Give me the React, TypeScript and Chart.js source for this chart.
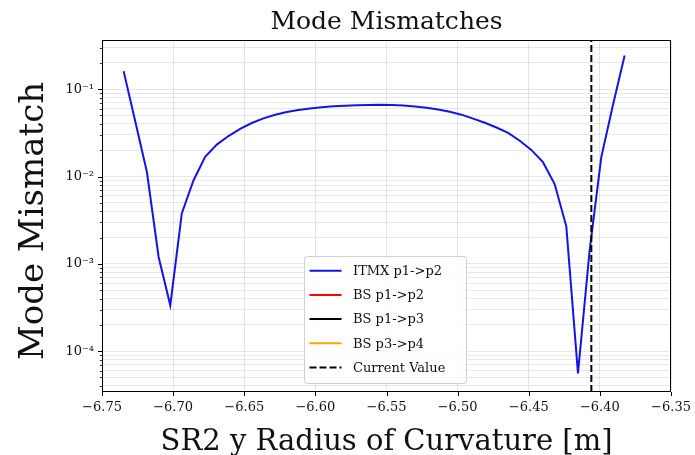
import React, { useEffect, useRef } from "react";
import { Chart, registerables } from "chart.js";

Chart.register(...registerables);

const xValues = [
  -6.7348, -6.7266, -6.7184, -6.7102, -6.702, -6.6939, -6.6857, -6.6775, -6.6693, -6.6611,
  -6.6529, -6.6447, -6.6365, -6.6283, -6.6201, -6.612, -6.6038, -6.5956, -6.5874, -6.5792,
  -6.571, -6.5628, -6.5546, -6.5464, -6.5382, -6.5301, -6.5219, -6.5137, -6.5055, -6.4973,
  -6.4891, -6.4809, -6.4727, -6.4645, -6.4563, -6.4482, -6.44, -6.4318, -6.4236, -6.4154,
  -6.4072, -6.399, -6.3908, -6.3826,
];

const itmxP1P2 = [
  0.161, 0.0427, 0.0112, 0.0012, 0.000335, 0.00378, 0.00902, 0.0168, 0.0232, 0.0291,
  0.0352, 0.041, 0.0463, 0.051, 0.0549, 0.0579, 0.0603, 0.0622, 0.0637, 0.0648,
  0.0656, 0.0661, 0.0663, 0.066, 0.0651, 0.0634, 0.0612, 0.0584, 0.0551, 0.0511,
  0.0461, 0.0413, 0.0364, 0.0316, 0.0257, 0.0202, 0.0146, 0.0082, 0.00269, 0.0000558,
  0.00143, 0.0167, 0.066, 0.243,
];

const bsP1P2: number[] = [];
const bsP1P3: number[] = [];
const bsP3P4: number[] = [];

const currentValue = -6.406;

const xMin = -6.75;
const xMax = -6.35;
const yMin = 3.41e-5;
const yMax = 0.366;

const xTickValues = [-6.75, -6.7, -6.65, -6.6, -6.55, -6.5, -6.45, -6.4, -6.35];

const yDecades = [1e-4, 1e-3, 1e-2, 1e-1];
const yTickLabels = ["10\u207B\u2074", "10\u207B\u00B3", "10\u207B\u00B2", "10\u207B\u00B9"];
const yAllTicks = [
  4e-5, 5e-5, 6e-5, 7e-5, 8e-5, 9e-5,
  1e-4, 2e-4, 3e-4, 4e-4, 5e-4, 6e-4, 7e-4, 8e-4, 9e-4,
  1e-3, 2e-3, 3e-3, 4e-3, 5e-3, 6e-3, 7e-3, 8e-3, 9e-3,
  1e-2, 2e-2, 3e-2, 4e-2, 5e-2, 6e-2, 7e-2, 8e-2, 9e-2,
  1e-1, 2e-1, 3e-1,
];

const seriesNames = ["ITMX p1->p2", "BS p1->p2", "BS p1->p3", "BS p3->p4", "Current Value"];
const seriesColors = ["#1414e6", "#ff0000", "#000000", "#ffa500", "#000000"];

const titleText = "Mode Mismatches";
const xLabel = "SR2 y Radius of Curvature [m]";
const yLabel = "Mode Mismatch";

const SERIF = "'DejaVu Serif', serif";

function decadeIndex(v: number) {
  return yDecades.findIndex((d) => Math.abs(Math.log10(d) - Math.log10(v)) < 1e-6);
}

const decorPlugin = {
  id: "decor",
  afterDraw(chart: any) {
    const { ctx, chartArea, scales } = chart;
    const { left, right, top, bottom } = chartArea;
    ctx.save();
    // frame
    ctx.strokeStyle = "#000";
    ctx.lineWidth = 1;
    ctx.strokeRect(left + 0.5, top + 0.5, right - left - 1, bottom - top - 1);
    // x tick marks
    xTickValues.forEach((v) => {
      const px = Math.round(scales.x.getPixelForValue(v)) + 0.5;
      ctx.beginPath();
      ctx.moveTo(px, bottom);
      ctx.lineTo(px, bottom + 4);
      ctx.stroke();
    });
    // y tick marks
    yAllTicks.forEach((v) => {
      const py = Math.round(scales.y.getPixelForValue(v)) + 0.5;
      const major = decadeIndex(v) >= 0;
      ctx.lineWidth = major ? 1 : 0.8;
      ctx.beginPath();
      ctx.moveTo(left, py);
      ctx.lineTo(left - (major ? 4 : 2.2), py);
      ctx.stroke();
    });
    // title
    const cx = (left + right) / 2;
    ctx.fillStyle = "#111";
    ctx.textAlign = "center";
    ctx.textBaseline = "alphabetic";
    ctx.font = `25px ${SERIF}`;
    ctx.fillText(titleText, cx, 29);
    // x label
    ctx.font = `29px ${SERIF}`;
    ctx.fillText(xLabel, cx, 450);
    // y label
    ctx.save();
    ctx.translate(43, (top + bottom) / 2 + 5);
    ctx.rotate(-Math.PI / 2);
    ctx.font = `34px ${SERIF}`;
    ctx.fillText(yLabel, 0, 0);
    ctx.restore();

    // legend
    const bx = 304.5, by = 256.5, bw = 162, bh = 127;
    ctx.beginPath();
    const r = 3;
    ctx.moveTo(bx + r, by);
    ctx.lineTo(bx + bw - r, by);
    ctx.arcTo(bx + bw, by, bx + bw, by + r, r);
    ctx.lineTo(bx + bw, by + bh - r);
    ctx.arcTo(bx + bw, by + bh, bx + bw - r, by + bh, r);
    ctx.lineTo(bx + r, by + bh);
    ctx.arcTo(bx, by + bh, bx, by + bh - r, r);
    ctx.lineTo(bx, by + r);
    ctx.arcTo(bx, by, bx + r, by, r);
    ctx.closePath();
    ctx.fillStyle = "rgba(255,255,255,0.85)";
    ctx.fill();
    ctx.strokeStyle = "#d0d0d0";
    ctx.lineWidth = 1;
    ctx.stroke();

    ctx.font = `13px ${SERIF}`;
    ctx.textAlign = "left";
    ctx.textBaseline = "middle";
    seriesNames.forEach((name, i) => {
      const ry = 270.7 + i * 24.2;
      ctx.strokeStyle = seriesColors[i];
      ctx.lineWidth = 2;
      ctx.setLineDash(i === 4 ? [7, 3] : []);
      ctx.beginPath();
      ctx.moveTo(309.5, ry);
      ctx.lineTo(341.5, ry);
      ctx.stroke();
      ctx.setLineDash([]);
      ctx.fillStyle = "#111";
      ctx.fillText(name, 353, ry + 1);
    });
    ctx.restore();
  },
};

export default function App() {
  const canvasRef = useRef<HTMLCanvasElement | null>(null);

  useEffect(() => {
    if (!canvasRef.current) return;
    const chart = new Chart(canvasRef.current, {
      type: "line",
      data: {
        datasets: [
          {
            label: seriesNames[0],
            data: xValues.map((x, i) => ({ x, y: itmxP1P2[i] })),
            borderColor: seriesColors[0],
            borderWidth: 2,
            pointRadius: 0,
            tension: 0,
            order: 2,
          },
          {
            label: seriesNames[1],
            data: bsP1P2.map((y, i) => ({ x: xValues[i], y })),
            borderColor: seriesColors[1],
            borderWidth: 2,
            pointRadius: 0,
            order: 3,
          },
          {
            label: seriesNames[2],
            data: bsP1P3.map((y, i) => ({ x: xValues[i], y })),
            borderColor: seriesColors[2],
            borderWidth: 2,
            pointRadius: 0,
            order: 4,
          },
          {
            label: seriesNames[3],
            data: bsP3P4.map((y, i) => ({ x: xValues[i], y })),
            borderColor: seriesColors[3],
            borderWidth: 2,
            pointRadius: 0,
            order: 5,
          },
          {
            label: seriesNames[4],
            data: [
              { x: currentValue, y: yMin },
              { x: currentValue, y: yMax },
            ],
            borderColor: seriesColors[4],
            borderWidth: 2,
            borderDash: [7, 3],
            pointRadius: 0,
            order: 1,
          },
        ],
      },
      options: {
        animation: false,
        responsive: false,
        events: [],
        layout: { padding: { left: 0, right: 24, top: 40, bottom: 0 } },
        plugins: {
          legend: { display: false },
          title: { display: false },
          tooltip: { enabled: false },
        },
        scales: {
          x: {
            type: "linear",
            min: xMin,
            max: xMax,
            afterBuildTicks: (scale: any) => {
              scale.ticks = xTickValues.map((v) => ({ value: v }));
            },
            afterFit: (scale: any) => {
              scale.height = 63;
              scale.paddingLeft = 0;
              scale.paddingRight = 0;
            },
            grid: { color: "rgba(0,0,0,0.1)", lineWidth: 1, drawTicks: false },
            border: { display: false },
            ticks: {
              autoSkip: false,
              maxRotation: 0,
              padding: 8,
              color: "#111",
              font: { family: SERIF, size: 13 },
              callback: (v: any) => {
                const n = Number(v);
                return (n < 0 ? "\u2212" : "") + Math.abs(n).toFixed(2);
              },
            },
          },
          y: {
            type: "logarithmic",
            min: yMin,
            max: yMax,
            afterBuildTicks: (scale: any) => {
              scale.ticks = yAllTicks.map((v) => ({ value: v }));
            },
            afterFit: (scale: any) => {
              scale.width = 102;
              scale.paddingTop = 0;
              scale.paddingBottom = 0;
            },
            grid: { color: "rgba(0,0,0,0.09)", lineWidth: 1, drawTicks: false },
            border: { display: false },
            ticks: {
              autoSkip: false,
              padding: 8,
              color: "#111",
              font: { family: SERIF, size: 13 },
              callback: (v: any) => {
                const i = decadeIndex(Number(v));
                return i >= 0 ? yTickLabels[i] : "";
              },
            },
          },
        },
      },
      plugins: [decorPlugin],
    } as any);
    return () => chart.destroy();
  }, []);

  return (
    <div style={{ position: "fixed", left: 0, top: 0, width: 695, height: 455, background: "#fff" }}>
      <canvas ref={canvasRef} width={695} height={455} style={{ display: "block" }} />
    </div>
  );
}
